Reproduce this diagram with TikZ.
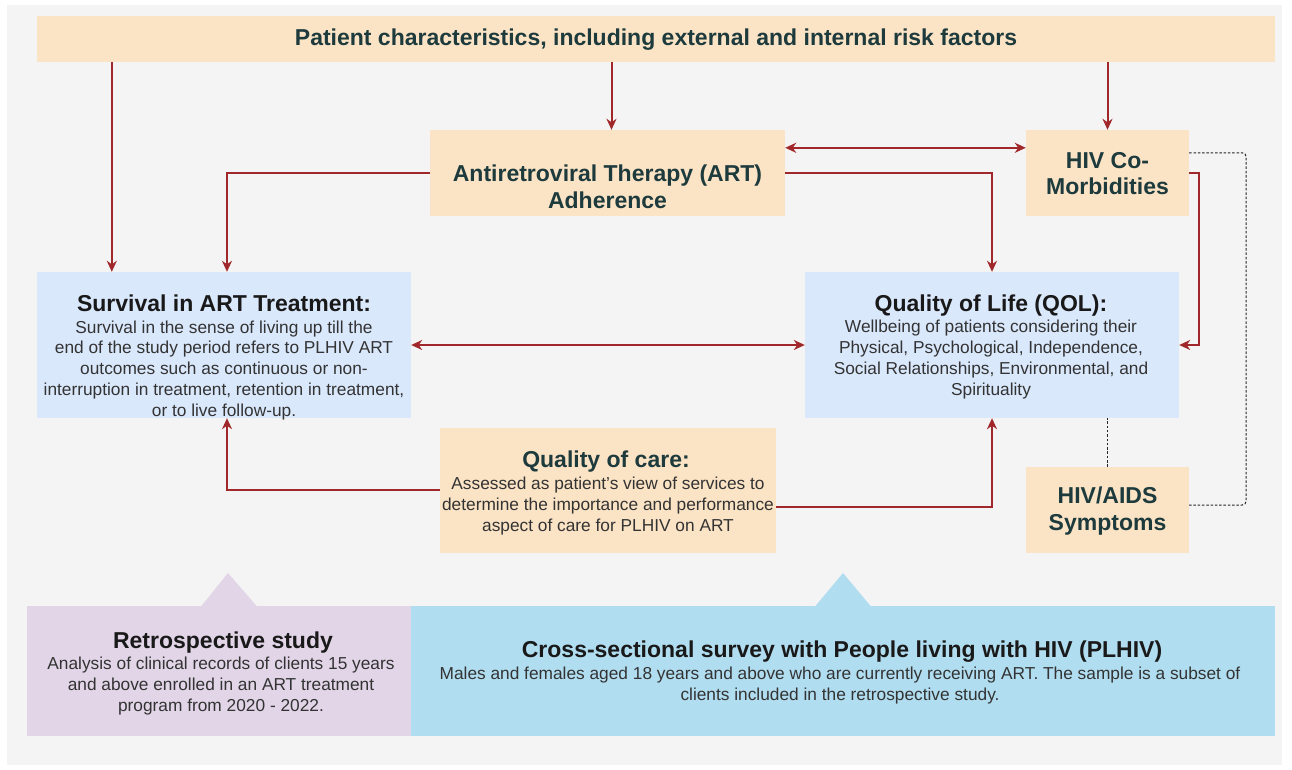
\documentclass[tikz,border=0pt]{standalone}
\usepackage{fontspec}
\setmainfont{Liberation Sans}
\usetikzlibrary{arrows.meta,calc}

\definecolor{panel}{HTML}{F4F4F4}
\definecolor{peach}{HTML}{FBE3C5}
\definecolor{skyfill}{HTML}{DAE8FC}
\definecolor{lilac}{HTML}{E1D5E7}
\definecolor{cyanfill}{HTML}{B1DDF0}
\definecolor{linkred}{HTML}{A0282A}
\definecolor{headteal}{HTML}{1D3A3C}
\definecolor{bodygray}{HTML}{333333}

\newcommand\headfont{\fontsize{23}{26.5}\selectfont\bfseries}
\newcommand\bodyfont{\fontsize{17.3}{20.7}\selectfont}

\begin{document}
\begin{tikzpicture}[x=1pt,y=-1pt,
  pbox/.style={fill=peach,draw=none,inner sep=0pt},
  bbox/.style={fill=skyfill,draw=none,inner sep=0pt},
  htext/.style={font=\headfont,align=center,inner sep=0pt,anchor=base},
  btext/.style={font=\bodyfont,text=bodygray,align=center,inner sep=0pt,anchor=base},
  arr/.style={draw=linkred,line width=2pt,-{Stealth[length=11pt,width=10pt,inset=3.5pt]}},
  arrtwo/.style={draw=linkred,line width=2pt,{Stealth[length=11pt,width=10pt,inset=3.5pt]}-{Stealth[length=11pt,width=10pt,inset=3.5pt]}},
  dotline/.style={draw=black!85,line width=1pt,dash pattern=on 2.5pt off 1.8pt}]

% page and panel
\useasboundingbox (0,0) rectangle (1292,770);
\fill[white] (0,0) rectangle (1292,770);
\fill[panel] (7,5) rectangle (1282,765);

% boxes
\node[pbox,minimum width=1238,minimum height=46] (top) at (656,39) {};
\node[pbox,minimum width=355,minimum height=86] (art) at (607.5,173) {};
\node[pbox,minimum width=163,minimum height=86] (hivco) at (1107.5,173) {};
\node[bbox,minimum width=374,minimum height=146] (surv) at (224,345) {};
\node[bbox,minimum width=374,minimum height=146] (qol) at (992,345) {};
\node[pbox,minimum width=336,minimum height=125] (qoc) at (608,490.5) {};
\node[pbox,minimum width=163,minimum height=86] (aids) at (1107.5,510) {};

% study design callouts
\fill[lilac] (201,606.5) -- (228,573) -- (257,606.5) -- cycle;
\fill[cyanfill] (815,606.5) -- (843,573) -- (871,606.5) -- cycle;
\node[fill=lilac,inner sep=0pt,minimum width=384,minimum height=130] (retro) at (219,671) {};
\node[fill=cyanfill,inner sep=0pt,minimum width=864,minimum height=130] (cross) at (843,671) {};

% texts (multi-line nodes are anchored at the baseline of their last line)
\node[htext,text=headteal] (topT) at (656,46) {Patient characteristics, including external and internal risk factors};
\node[htext,text=headteal] (artT) at (607.5,208) {Antiretroviral Therapy (ART)\\Adherence};
\node[htext,text=headteal] (hivcoT) at (1107.5,195) {HIV Co-\\Morbidities};
\node[htext,text=headteal] (aidsT) at (1107.5,530) {HIV/AIDS\\Symptoms};

\node[htext,text=black!90] (survH) at (224,311) {Survival in ART Treatment:};
\node[btext] (survB) at (224,416) {Survival in the sense of living up till the\\end of the study period refers to PLHIV ART\\outcomes such as continuous or non-\\interruption in treatment, retention in treatment,\\or to live follow-up.};

\node[htext,text=black!90] (qolH) at (991,311) {Quality of Life (QOL):};
\node[btext] (qolB) at (991,395) {Wellbeing of patients considering their\\Physical, Psychological, Independence,\\Social Relationships, Environmental, and\\Spirituality};

\node[htext,text=headteal] (qocH) at (606,467) {Quality of care:};
\node[btext] (qocB) at (608,531) {Assessed as patient's view of services to\\determine the importance and performance\\aspect of care for PLHIV on ART};

\node[htext,text=black!90] (retroH) at (223,648) {Retrospective study};
\node[btext] (retroB) at (221,711) {Analysis of clinical records of clients 15 years\\and above enrolled in an ART treatment\\program from 2020 - 2022.};

\node[htext,text=black!90] (crossH) at (842,657) {Cross-sectional survey with People living with HIV (PLHIV)};
\node[btext] (crossB) at (840,700) {Males and females aged 18 years and above who are currently receiving ART. The sample is a subset of\\clients included in the retrospective study.};

% connectors
\coordinate (s1) at ($(surv.north west)+(75,0)$);
\coordinate (a1) at ($(art.north)+(4,0)$);
\draw[arr] (top.south -| s1) -- (s1);
\draw[arr] (top.south -| a1) -- (a1);
\draw[arr] (top.south -| hivco.north) -- (hivco.north);

\draw[arr] (art.west) -| ($(surv.north)+(3,0)$);
\draw[arr] (art.east) -| (qol.north);
\draw[arrtwo] ($(art.north east)+(0,18)$) -- ($(hivco.north west)+(0,18)$);
\draw[arr] (hivco.east) -- ++(10,0) |- (qol.east);
\draw[arrtwo] (surv.east) -- (qol.west);

\draw[arr] ($(qoc.north west)+(0,62)$) -| ($(surv.south)+(3,0)$);
\draw[arr] ($(qoc.north east)+(0,79)$) -| (qol.south);

\draw[dotline,rounded corners=4] ($(hivco.north east)+(0,23)$) -- ++(57,0) |- ($(aids.east)+(0,-5)$);
\draw[dotline] (aids.north) -- (aids.north |- qol.south);

\end{tikzpicture}
\end{document}
